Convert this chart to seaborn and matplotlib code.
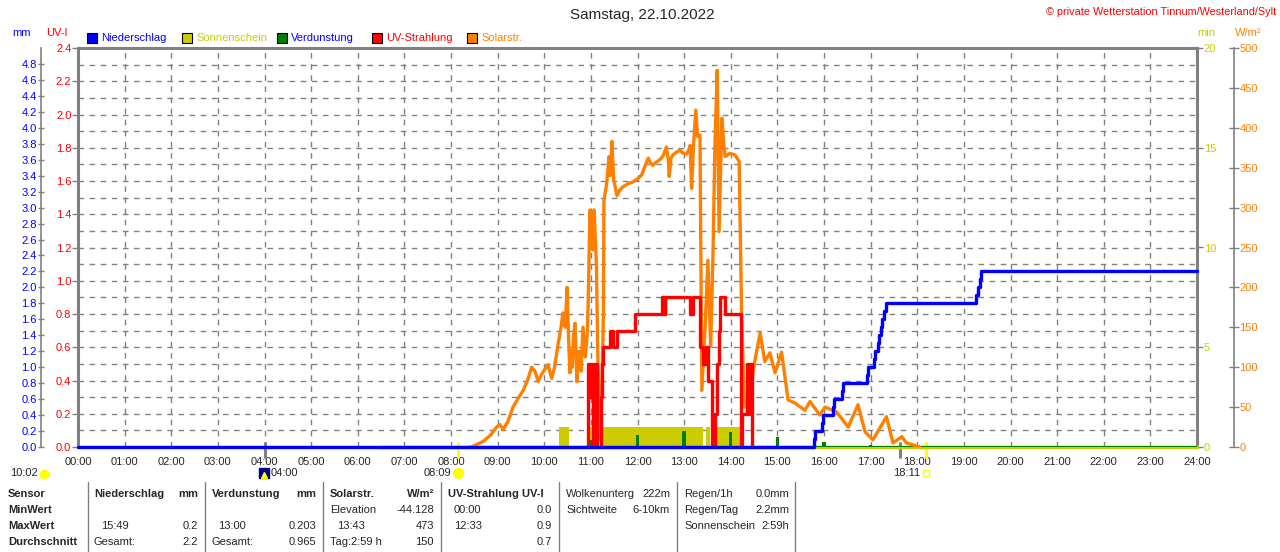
import matplotlib
matplotlib.use("Agg")
import matplotlib.pyplot as plt
import seaborn as sns
import numpy as np
from matplotlib.patches import Rectangle


W, H = 1280, 552

BLUE = "#0000FF"
YELLOW = "#CCCC00"
GREEN = "#008000"
RED = "#FF0000"
ORANGE = "#FF8000"
GRAY = "#808080"

# x axis: hours of the day
hours = list(range(25))
hour_labels = ["%02d:00" % h for h in hours]

# Solarstrahlung (W/m²)
solar_t = [8.40, 8.44, 8.55, 8.69, 8.85, 8.98, 9.05, 9.12, 9.22, 9.33, 9.44, 9.55,
           9.65, 9.73, 9.80, 9.87, 9.95, 10.08, 10.16, 10.22, 10.30, 10.36, 10.40,
           10.45, 10.49, 10.52, 10.55, 10.58, 10.60, 10.63, 10.66, 10.70, 10.73,
           10.75, 10.79, 10.83, 10.88, 10.92,
           10.94, 10.98, 11.01, 11.04, 11.07, 11.12, 11.15, 11.20, 11.24, 11.27,
           11.28, 11.34, 11.39, 11.42, 11.45, 11.49, 11.56, 11.62, 11.69, 11.80,
           11.90, 12.00, 12.09, 12.16, 12.23, 12.28, 12.33, 12.40, 12.48, 12.55,
           12.62, 12.66, 12.68, 12.72, 12.76, 12.85, 12.91, 12.98, 13.05, 13.10,
           13.13, 13.16, 13.20, 13.25, 13.29, 13.34, 13.38, 13.45, 13.51, 13.57,
           13.62, 13.66, 13.71, 13.75, 13.81, 13.85, 13.88, 13.98, 14.09, 14.18,
           14.23, 14.29, 14.31, 14.41, 14.52, 14.63, 14.73, 14.84, 14.95, 15.09,
           15.23, 15.38, 15.59, 15.70, 15.91, 16.02, 16.27, 16.52, 16.73, 16.88,
           17.05, 17.34, 17.48, 17.67, 17.77, 17.95, 18.05]
solar_w = [0, 0, 3, 7, 15, 25, 28, 22, 32, 50, 61, 71,
           85, 100, 95, 82, 92, 103, 86, 100, 130, 150, 168,
           150, 200, 140, 93, 120, 100, 140, 155, 82, 110,
           120, 95, 150, 113, 140,
           175, 297, 260, 247, 297, 226, 109, 9, 80, 168,
           309, 331, 364, 340, 383, 335, 315, 322, 326, 330,
           332, 336, 341, 352, 362, 356, 353, 357, 360, 365,
           376, 360, 339, 362, 366, 370, 372, 368, 367, 372,
           378, 324, 376, 422, 389, 391, 71, 150, 234, 126,
           243, 376, 472, 270, 412, 380, 364, 368, 366, 358,
           176, 50, 50, 67, 109, 143, 107, 118, 93, 119,
           59, 55, 46, 57, 40, 50, 44, 25, 53, 19,
           9, 38, 5, 13, 5, 2, 0]

# UV-Strahlung (UV-Index), stepwise
uv_t = [10.90, 10.93, 10.98, 11.00, 11.05, 11.08, 11.13, 11.22, 11.24, 11.27,
        11.40, 11.48, 11.55, 11.95, 12.52, 12.54, 12.56, 12.58, 12.60, 13.13,
        13.18, 13.34, 13.40, 13.46, 13.52, 13.59, 13.66, 13.70, 13.74, 13.77,
        13.88, 14.21, 14.25, 14.34, 14.37, 14.40, 14.45, 14.50]
uv_i = [0.0, 0.5, 0.3, 0.5, 0.0, 0.5, 0.0, 0.3, 0.5, 0.6,
        0.7, 0.6, 0.7, 0.8, 0.9, 0.8, 0.9, 0.8, 0.9, 0.8,
        0.9, 0.6, 0.5, 0.6, 0.4, 0.0, 0.2, 0.5, 0.7, 0.9,
        0.8, 0.0, 0.2, 0.5, 0.2, 0.5, 0.0, 0.0]

# Niederschlag, cumulative (mm), stepwise
rain_t = [0.0, 15.79, 15.81, 15.95, 15.97, 16.19, 16.21, 16.39, 16.41, 16.92,
          16.94, 17.08, 17.10, 17.15, 17.17, 17.22, 17.25, 17.29, 17.32, 19.26,
          19.30, 19.35, 19.37, 24.0]
rain_mm = [0.0, 0.1, 0.2, 0.3, 0.4, 0.5, 0.6, 0.7, 0.8, 0.9,
           1.0, 1.1, 1.2, 1.3, 1.4, 1.5, 1.6, 1.7, 1.8, 1.9,
           2.0, 2.1, 2.2, 2.2]

# Verdunstung per hour (mm)
evap_h = [10, 11, 12, 13, 14, 15, 16, 17, 18, 19, 20, 21, 22, 23]
evap_mm = [0.01, 0.09, 0.15, 0.203, 0.19, 0.12, 0.06, 0.03, 0.02, 0.015,
           0.015, 0.015, 0.015, 0.015]

# Sonnenschein periods (start, end in hours), 1 min per minute of sun
sun_start = [10.32, 10.93, 11.26, 13.47, 13.68]
sun_end = [10.53, 11.13, 13.40, 13.56, 14.22]
sun_record_start = 6.47

# astronomic events (hours)
sunrise = 8.15
sunset = 18.18
moon_events = [4.0, 17.62]

# legend
legend_names = ["Niederschlag", "Sonnenschein", "Verdunstung", "UV-Strahlung", "Solarstr."]
legend_fill = [BLUE, YELLOW, GREEN, RED, ORANGE]
legend_text = [BLUE, YELLOW, BLUE, RED, ORANGE]

# bottom table: (x, row, text, align, bold)
table_rows = ["Sensor", "MinWert", "MaxWert", "Durchschnitt"]
table_cells = [
    (94, 0, "Niederschlag", "left", True), (198, 0, "mm", "right", True),
    (101, 2, "15:49", "left", False), (198, 2, "0.2", "right", False),
    (94, 3, "Gesamt:", "left", False), (198, 3, "2.2", "right", False),
    (212, 0, "Verdunstung", "left", True), (316, 0, "mm", "right", True),
    (218, 2, "13:00", "left", False), (316, 2, "0.203", "right", False),
    (212, 3, "Gesamt:", "left", False), (316, 3, "0.965", "right", False),
    (330, 0, "Solarstr.", "left", True), (434, 0, "W/m²", "right", True),
    (330, 1, "Elevation", "left", False), (434, 1, "-44.128", "right", False),
    (337, 2, "13:43", "left", False), (434, 2, "473", "right", False),
    (330, 3, "Tag:2:59 h", "left", False), (434, 3, "150", "right", False),
    (448, 0, "UV-Strahlung UV-I", "left", True),
    (454, 1, "00:00", "left", False), (552, 1, "0.0", "right", False),
    (454, 2, "12:33", "left", False), (552, 2, "0.9", "right", False),
    (552, 3, "0.7", "right", False),
    (566, 0, "Wolkenunterg", "left", False), (670, 0, "222m", "right", False),
    (566, 1, "Sichtweite", "left", False), (670, 1, "6-10km", "right", False),
    (684, 0, "Regen/1h", "left", False), (789, 0, "0.0mm", "right", False),
    (684, 1, "Regen/Tag", "left", False), (789, 1, "2.2mm", "right", False),
    (684, 2, "Sonnenschein", "left", False), (789, 2, "2:59h", "right", False),
]
table_row_y = [494, 510, 526, 542]
table_sep_x = [88, 205, 323, 441, 559, 677, 795]


def fx(x):
    return x / W


def fy(y):
    return 1 - y / H


sns.set_style("white")
plt.rcParams["font.family"] = ["Liberation Sans", "DejaVu Sans"]
plt.rcParams["font.size"] = 8
plt.rcParams["lines.scale_dashes"] = False

fig = plt.figure(figsize=(W / 100, H / 100), dpi=100)
ax = fig.add_axes([fx(78), fy(447), fx(1197 - 78), (447 - 48) / H])

# main axes: UV scale, grid
ax.set_xlim(0, 24)
ax.set_ylim(0, 2.4)
ax.set_xticks(hours)
ax.set_xticklabels(hour_labels)
ax.set_yticks(np.round(np.arange(0, 2.41, 0.2), 1))
ax.set_yticklabels(["%.1f" % v for v in np.arange(0, 2.41, 0.2)])
ax.set_yticks(np.arange(0, 2.41, 0.1), minor=True)
ax.grid(which="both", axis="y", color=GRAY, lw=1, ls=(0, (4, 4)))
ax.grid(which="major", axis="x", color=GRAY, lw=1, ls=(0, (4, 4)))
ax.tick_params(axis="x", length=0, pad=7, labelsize=8)
ax.tick_params(axis="y", which="major", direction="out", length=4.3, width=1,
               color=GRAY, labelcolor=RED, pad=0.5, labelsize=8)
ax.tick_params(axis="y", which="minor", length=0)
for s in ["left", "top", "right"]:
    ax.spines[s].set_color(GRAY)
    ax.spines[s].set_linewidth(2.2)
ax.spines["bottom"].set_color(GRAY)
ax.spines["bottom"].set_linewidth(1)
ax.set_axisbelow(True)


def bare_twin(parent, ylim):
    t = parent.twinx()
    t.set_ylim(*ylim)
    for s in t.spines.values():
        s.set_visible(False)
    t.set_yticks([])
    return t


# sunshine (minutes)
ax_min = bare_twin(ax, (0, 20))
ax_min.set_yticks([0, 5, 10, 15, 20])
ax_min.tick_params(axis="y", direction="out", length=4.3, width=1, color=GRAY,
                   labelcolor=YELLOW, pad=0.5, labelsize=8)
sun_w = [e - s for s, e in zip(sun_start, sun_end)]
ax_min.bar(sun_start, [1] * len(sun_start), width=sun_w, align="edge",
           color=YELLOW, linewidth=0, zorder=2)
sns.lineplot(x=[sun_record_start, hours[-1]], y=[0, 0], ax=ax_min, color=YELLOW,
             lw=2.5, clip_on=False, zorder=1)

# evaporation (mm)
ax_ev = bare_twin(ax, (0, 5))
ax_ev.bar(evap_h, evap_mm, width=0.07, color=GREEN, linewidth=0, zorder=2)
ax_ev.axhline(0, color=GREEN, lw=1.5, zorder=1)

# solar radiation
ax_sol = bare_twin(ax, (0, 500))
ax_sol.spines["right"].set_visible(True)
ax_sol.spines["right"].set_color(GRAY)
ax_sol.spines["right"].set_linewidth(1.2)
ax_sol.spines["right"].set_position(("outward", 26.6))
ax_sol.set_yticks(np.arange(0, 501, 50))
ax_sol.tick_params(axis="y", direction="inout", length=7, width=1, color=GRAY,
                   labelcolor=ORANGE, pad=0.5, labelsize=8)
sns.lineplot(x=solar_t, y=solar_w, ax=ax_sol, color=ORANGE, lw=2.4,
             estimator=None, sort=False)

# UV line
ax_uv = bare_twin(ax, (0, 2.4))
sns.lineplot(x=uv_t, y=uv_i, ax=ax_uv, color=RED, lw=2.4, drawstyle="steps-post",
             estimator=None, sort=False)

# precipitation (mm), left outer axis
ax_mm = bare_twin(ax, (0, 5))
ax_mm.yaxis.set_ticks_position("left")
ax_mm.spines["left"].set_visible(True)
ax_mm.spines["left"].set_color(GRAY)
ax_mm.spines["left"].set_linewidth(1.2)
ax_mm.spines["left"].set_position(("outward", 26.6))
ax_mm.set_yticks(np.round(np.arange(0, 4.81, 0.2), 1))
ax_mm.set_yticklabels(["%.1f" % v for v in np.arange(0, 4.81, 0.2)])
ax_mm.tick_params(axis="y", direction="inout", length=5, width=1, color=GRAY,
                  labelcolor=BLUE, pad=0.5, labelsize=8)
sns.lineplot(x=rain_t, y=rain_mm, ax=ax_mm, color=BLUE, lw=2.4,
             drawstyle="steps-post", estimator=None, sort=False, clip_on=False)

for a in [ax, ax_min, ax_ev, ax_sol, ax_uv, ax_mm]:
    a.set_xlim(0, 24)
    a.set_xlabel("")
    a.set_ylabel("")
    leg = a.get_legend()
    if leg is not None:
        leg.remove()

# sunrise / sunset / moon markers below the axis
tr = ax.get_xaxis_transform()
for t in [sunrise, sunset]:
    ax.plot([t, t], [-0.025, 0.01], transform=tr, color="#FFFF00", lw=2.2,
            clip_on=False)
for t in moon_events:
    ax.plot([t, t], [-0.025, 0.01], transform=tr, color=GRAY, lw=2.2,
            clip_on=False)

# titles and labels
fig.text(fx(642), fy(15), "Samstag, 22.10.2022", ha="center", va="center", fontsize=11)
fig.text(fx(1276), fy(12), "© private Wetterstation Tinnum/Westerland/Sylt",
         ha="right", va="center", color=RED, fontsize=7.8)
fig.text(fx(22), fy(33), "mm", ha="center", va="center", color=BLUE, fontsize=8)
fig.text(fx(57), fy(33), "UV-I", ha="center", va="center", color=RED, fontsize=8)
fig.text(fx(1206), fy(33), "min", ha="center", va="center", color=YELLOW, fontsize=8)
fig.text(fx(1248), fy(33), "W/m²", ha="center", va="center", color=ORANGE, fontsize=8)

sq_x = [87, 182, 277, 372, 467]
for x0, name, fc, tc in zip(sq_x, legend_names, legend_fill, legend_text):
    fig.patches.append(Rectangle((fx(x0), fy(43)), 10 / W, 10 / H, transform=fig.transFigure,
                                 facecolor=fc, edgecolor="black", lw=0.8))
    fig.text(fx(x0 + 14), fy(38), name, ha="left", va="center", color=tc, fontsize=8)

# astronomic labels
fig.text(fx(10), fy(473), "10:02", ha="left", va="center", fontsize=8)
fig.text(fx(271), fy(473), "04:00", ha="left", va="center", fontsize=8)
fig.text(fx(451), fy(473), "08:09", ha="right", va="center", fontsize=8)
fig.text(fx(893), fy(473), "18:11", ha="left", va="center", fontsize=8)
ax.plot([fx(44)], [fy(474)], transform=fig.transFigure, marker="o", ms=6,
        color="#FFFF00", clip_on=False)
ax.plot([fx(264)], [fy(473)], transform=fig.transFigure, marker="s", ms=7,
        color="#000080", clip_on=False)
ax.plot([fx(264)], [fy(475)], transform=fig.transFigure, marker="^", ms=4,
        color="#FFFF00", clip_on=False)
ax.plot([fx(458)], [fy(473)], transform=fig.transFigure, marker="o", ms=7,
        color="#FFFF00", clip_on=False)
ax.plot([fx(926)], [fy(473)], transform=fig.transFigure, marker="s", ms=5,
        mfc="none", mec="#FFFF00", mew=1, clip_on=False)

# bottom table
for x in table_sep_x:
    fig.add_artist(plt.Line2D([fx(x), fx(x)], [fy(482), 0], color=GRAY, lw=1))
for name, y in zip(table_rows, table_row_y):
    fig.text(fx(8), fy(y), name, ha="left", va="center", fontweight="bold", fontsize=8)
for x, r, txt, al, bold in table_cells:
    fig.text(fx(x), fy(table_row_y[r]), txt, ha=al, va="center", fontsize=8,
             fontweight="bold" if bold else "normal")

fig.savefig("out.png", dpi=100)
